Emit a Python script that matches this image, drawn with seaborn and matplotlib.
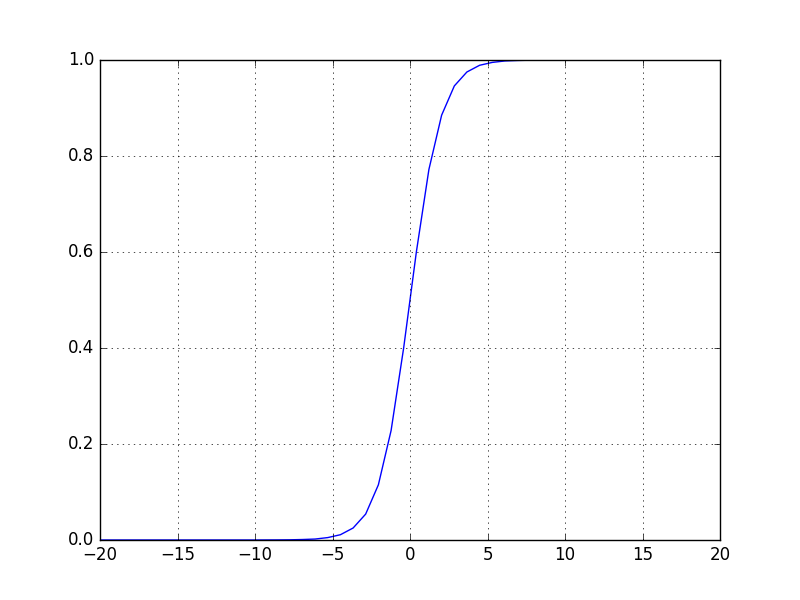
import pandas as pd
import numpy as np
import matplotlib
matplotlib.use("Agg")
import matplotlib.pyplot as plt
import seaborn as sns

## Data
x_vals = [-20.00, -19.18, -18.37, -17.55, -16.73, -15.92, -15.10, -14.29, -13.47, -12.65,
          -11.84, -11.02, -10.20, -9.39, -8.57, -7.76, -6.94, -6.12, -5.31, -4.49,
          -3.67, -2.86, -2.04, -1.22, -0.41, 0.41, 1.22, 2.04, 2.86, 3.67,
          4.49, 5.31, 6.12, 6.94, 7.76, 8.57, 9.39, 10.20, 11.02, 11.84,
          12.65, 13.47, 14.29, 15.10, 15.92, 16.73, 17.55, 18.37, 19.18, 20.00]
y_vals = [0.0, 0.0, 0.0, 0.0, 0.0, 0.0, 0.0, 0.0, 0.0, 0.0,
          0.0, 0.0, 0.0, 0.0001, 0.0002, 0.0004, 0.001, 0.002, 0.005, 0.011,
          0.025, 0.054, 0.115, 0.228, 0.40, 0.60, 0.772, 0.885, 0.946, 0.975,
          0.989, 0.995, 0.998, 0.999, 0.9996, 0.9998, 0.9999, 1.0, 1.0, 1.0,
          1.0, 1.0, 1.0, 1.0, 1.0, 1.0, 1.0, 1.0, 1.0, 1.0]

df = pd.DataFrame({"x": x_vals, "y": y_vals})

plt.style.use("classic")
fig, ax = plt.subplots(figsize=(8, 6), dpi=100)
sns.lineplot(data=df, x="x", y="y", color="b", linewidth=1, ax=ax)
ax.set_xlim(-20, 20)
ax.set_ylim(0, 1)
ax.set_xlabel("")
ax.set_ylabel("")
ax.grid(True)
fig.savefig("out.png", dpi=100, facecolor="white")
